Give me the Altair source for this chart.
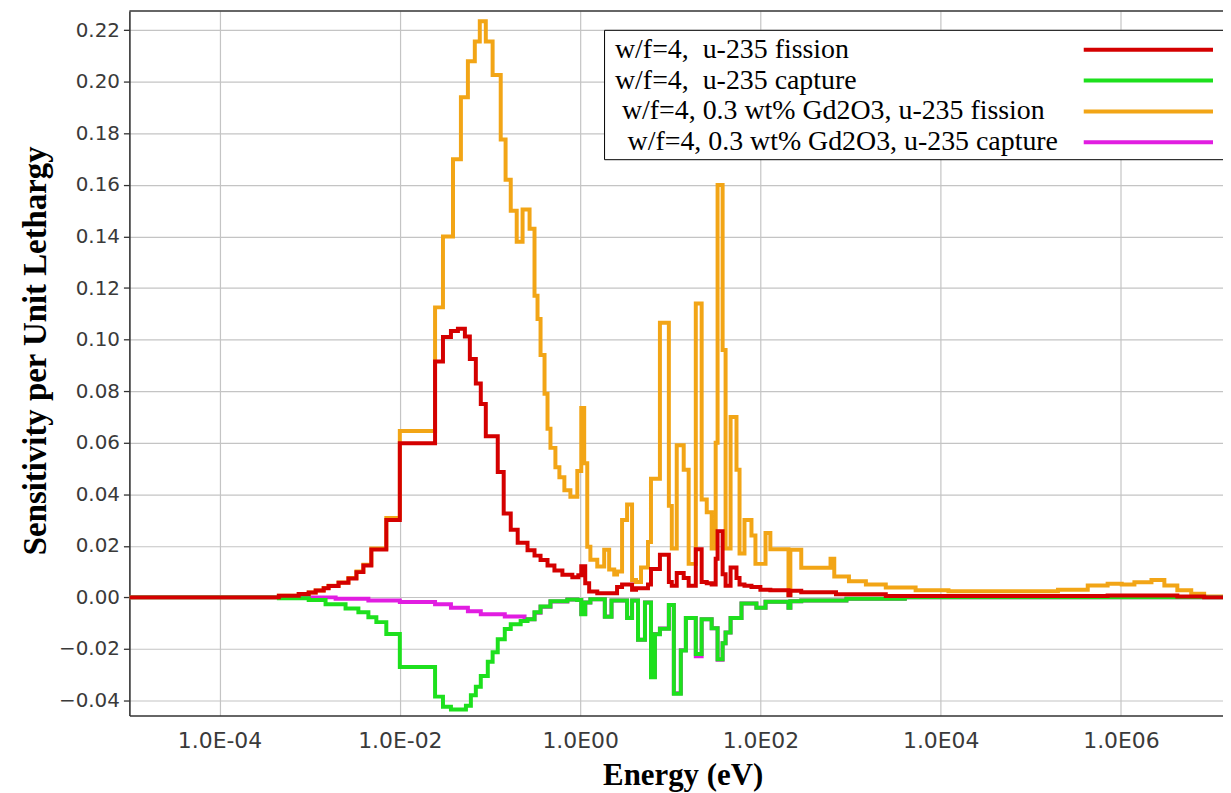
import altair as alt
import pandas as pd

# ---------------- data ----------------
series_names = [
    "w/f=4,\u00a0 u-235 fission",
    "w/f=4,\u00a0 u-235 capture",
    "\u200b\u00a0w/f=4, 0.3 wt% Gd2O3, u-235 fission",
    "\u200b\u00a0\u2009w/f=4, 0.3 wt% Gd2O3, u-235 capture",
]
series_colors = ["#d40000", "#1de01d", "#f2a516", "#e11de1"]

red_energy = [1e-5, 4.55e-4, 7.56e-4, 9.75e-4, 1.165e-3, 1.43e-3, 1.62e-3, 2.09e-3, 2.69e-3, 3.30e-3,
              3.94e-3, 4.83e-3, 7.08e-3, 1.0e-2, 0.0246, 0.0301, 0.0369, 0.0441, 0.0527, 0.0598,
              0.0697, 0.0791, 0.0899, 0.122, 0.142, 0.170, 0.203, 0.261, 0.312, 0.364,
              0.435, 0.519, 0.636, 0.820, 0.955, 1.03, 1.14, 1.26, 1.55, 2.57,
              2.92, 3.77, 4.17, 5.66, 6.11, 7.68, 9.65, 10.4, 11.8, 14.1,
              16.0, 19.2, 22.3, 25.4, 28.8, 31.9, 33.5, 38.1, 41.1, 46.7,
              54.3, 58.7, 66.6, 79.6, 100, 129, 205, 215, 284, 690,
              2460, 7.11e5, 4.22e6, 8.37e6]
red_value = [0, 0.0006, 0.0013, 0.0019, 0.0027, 0.0035, 0.0044, 0.0057, 0.0073, 0.0098,
             0.0124, 0.0186, 0.0300, 0.0598, 0.0915, 0.1010, 0.1033, 0.1042, 0.1012, 0.0925,
             0.0830, 0.0750, 0.0625, 0.0486, 0.0325, 0.0262, 0.0212, 0.0183, 0.0162, 0.0145,
             0.0124, 0.0104, 0.0088, 0.0078, 0.0086, 0.0121, 0.0055, 0.0023, 0.0016, 0.0040,
             0.0050, 0.0030, 0.0035, 0.0050, 0.0110, 0.0165, 0.0060, 0.0045, 0.0095, 0.0075,
             0.0045, 0.0187, 0.0060, 0.0055, 0.0050, 0.0150, 0.0257, 0.0090, 0.0045, 0.0116,
             0.0075, 0.0050, 0.0045, 0.0040, 0.0030, 0.0028, 0.0008, 0.0026, 0.0020, 0.0012,
             0.0005, 0.0007, 0.0003, 0.0]

green_energy = [1e-5, 4.55e-4, 9.75e-4, 1.50e-3, 2.50e-3, 3.47e-3, 4.48e-3, 5.49e-3, 7.08e-3, 1.0e-2,
                0.0246, 0.0301, 0.0369, 0.0541, 0.0614, 0.0697, 0.0791, 0.0946, 0.107, 0.122,
                0.146, 0.170, 0.219, 0.261, 0.312, 0.364, 0.469, 0.722, 0.931, 1.03,
                1.14, 1.30, 1.88, 2.23, 3.32, 3.77, 4.39, 5.24, 6.11, 6.76,
                7.68, 9.65, 10.96, 13.1, 14.9, 19.2, 22.3, 28.8, 33.5, 38.1,
                41.1, 46.7, 61.7, 90.3, 114, 205, 215, 284, 900, 4000]
green_value = [0, -0.0003, -0.0010, -0.0027, -0.0043, -0.0058, -0.0077, -0.0096, -0.0142, -0.0270,
               -0.0385, -0.0424, -0.0435, -0.0420, -0.0380, -0.0347, -0.0305, -0.0250, -0.0213, -0.0162,
               -0.0123, -0.0104, -0.0092, -0.0085, -0.0058, -0.0035, -0.0015, -0.0008, -0.0010, -0.0065,
               -0.0020, -0.0007, -0.0075, -0.0012, -0.0080, -0.0012, -0.0164, -0.0020, -0.0310, -0.0143,
               -0.0122, -0.0030, -0.0374, -0.0206, -0.0080, -0.0220, -0.0085, -0.0120, -0.0240, -0.0178,
               -0.0136, -0.0080, -0.0024, -0.0040, -0.0017, -0.0040, -0.0015, -0.0012, -0.0005, 0.0]

orange_energy = [1e-5, 4.55e-4, 7.56e-4, 9.75e-4, 1.165e-3, 1.43e-3, 1.62e-3, 2.09e-3, 2.69e-3, 3.30e-3,
                 3.94e-3, 4.83e-3, 7.08e-3, 1.0e-2, 0.0246, 0.0301, 0.0389, 0.0476, 0.0569, 0.0679,
                 0.0771, 0.0899, 0.107, 0.1316, 0.149, 0.170, 0.198, 0.230, 0.275, 0.312,
                 0.337, 0.364, 0.403, 0.435, 0.469, 0.532, 0.589, 0.669, 0.780, 0.931,
                 1.03, 1.11, 1.20, 1.30, 1.55, 1.85, 2.10, 2.39, 2.57, 2.92,
                 3.32, 3.77, 4.17, 4.74, 5.66, 6.11, 7.68, 9.65, 10.4, 11.8,
                 14.1, 16.0, 19.2, 22.3, 25.4, 28.8, 31.9, 33.5, 38.1, 41.1,
                 46.7, 54.3, 58.7, 66.6, 79.6, 88.1, 114, 129, 205, 215,
                 284, 600, 660, 960, 1480, 2460, 5270, 1.22e4, 2.0e5, 4.28e5,
                 7.11e5, 1.02e6, 1.41e6, 2.18e6, 3.03e6, 4.22e6, 6.02e6, 8.37e6]
orange_value = [0, 0.0006, 0.0013, 0.0019, 0.0027, 0.0036, 0.0045, 0.0058, 0.0075, 0.0100,
                0.0127, 0.0190, 0.0308, 0.0645, 0.1125, 0.1400, 0.1700, 0.1940, 0.2080, 0.2156,
                0.2235, 0.2156, 0.2026, 0.1776, 0.1620, 0.1500, 0.1380, 0.1505, 0.1430, 0.1170,
                0.1080, 0.0940, 0.0790, 0.0654, 0.0580, 0.0505, 0.0466, 0.0416, 0.0390, 0.0490,
                0.0735, 0.0520, 0.0196, 0.0146, 0.0120, 0.0185, 0.0108, 0.0089, 0.0100, 0.0300,
                0.0360, 0.0067, 0.0060, 0.0116, 0.0215, 0.0460, 0.1065, 0.0355, 0.0190, 0.0590,
                0.0495, 0.0130, 0.1140, 0.0380, 0.0330, 0.0190, 0.0600, 0.1600, 0.0960, 0.0190,
                0.0700, 0.0495, 0.0170, 0.0300, 0.0240, 0.0130, 0.0250, 0.0187, 0.0010, 0.0185,
                0.0115, 0.0150, 0.0081, 0.0063, 0.0050, 0.0038, 0.0028, 0.0024, 0.0030, 0.0046,
                0.0053, 0.0050, 0.0059, 0.0067, 0.0046, 0.0028, 0.0014, 0.0003]

magenta_energy = [1e-5, 1.94e-3, 4.48e-3, 1.0e-2, 0.0246, 0.0369, 0.0569, 0.0791, 0.146, 0.242,
                  0.312, 0.364, 0.469, 0.722, 0.931, 1.03, 1.14, 1.30, 1.88, 2.23,
                  3.32, 3.77, 4.39, 5.24, 6.11, 6.76, 7.68, 9.65, 10.96, 13.1,
                  14.9, 19.2, 22.3, 28.8, 33.5, 38.1, 41.1, 46.7, 61.7, 90.3,
                  114, 205, 215, 284, 900, 4000]
magenta_value = [0, -0.0005, -0.0012, -0.0018, -0.0027, -0.0040, -0.0054, -0.0065, -0.0074, -0.0085,
                 -0.0060, -0.0036, -0.0016, -0.0008, -0.0010, -0.0064, -0.0020, -0.0007, -0.0074, -0.0012,
                 -0.0079, -0.0012, -0.0164, -0.0020, -0.0308, -0.0142, -0.0121, -0.0030, -0.0372, -0.0205,
                 -0.0080, -0.0228, -0.0085, -0.0120, -0.0242, -0.0178, -0.0136, -0.0080, -0.0024, -0.0040,
                 -0.0017, -0.0040, -0.0015, -0.0012, -0.0005, 0.0]

x_ticks = [1e-4, 1e-2, 1.0, 1e2, 1e4, 1e6]
x_tick_labels = ["1.0E-04", "1.0E-02", "1.0E00", "1.0E02", "1.0E04", "1.0E06"]
y_ticks = [-0.04, -0.02, 0.0, 0.02, 0.04, 0.06, 0.08, 0.10, 0.12, 0.14, 0.16, 0.18, 0.20, 0.22]

E_MAX = 2.0e7


def frame(name, energies, values):
    e = list(energies) + [E_MAX]
    v = list(values) + [values[-1]]
    return pd.DataFrame({"energy": e, "sens": v, "series": name})


PLOT_W = 1099
PLOT_H = 708

x_scale = alt.Scale(type="log", domain=[1e-5, 1.355e7], nice=False)
y_scale = alt.Scale(domain=[-0.0458, 0.2275], nice=False, zero=False)
color_scale = alt.Scale(domain=series_names, range=series_colors)

label_expr = "[" + ",".join("'%s'" % s for s in x_tick_labels) + "][round((log(datum.value)/LN10 + 4)/2)]"

x_axis = alt.Axis(
    values=x_ticks, labelExpr=label_expr, title="Energy (eV)", grid=True,
    gridColor="#c4c4c4", gridWidth=1.2, domainColor="#333333", domainWidth=1.6,
    tickSize=0, labelFont="DejaVu Sans", labelFontSize=22, labelColor="#3a3a3a",
    labelPadding=15, titleFont="Liberation Serif", titleFontSize=31, titleFontWeight="bold",
    titleColor="black", titleX=556, titleY=69, titleBaseline="alphabetic",
)
y_axis = alt.Axis(
    values=y_ticks, format=".2f", title="Sensitivity per Unit Lethargy", grid=True,
    gridColor="#c4c4c4", gridWidth=1.2, domainColor="#333333", domainWidth=1.6,
    tickSize=6, tickColor="#333333", tickWidth=1.3,
    labelFont="DejaVu Sans", labelFontSize=20, labelColor="#3a3a3a", labelPadding=4,
    titleFont="Liberation Serif", titleFontSize=33, titleFontWeight="bold", titleColor="black",
    titleX=-94, titleY=341, titleBaseline="middle", titleAngle=-90,
)
legend = alt.Legend(
    title=None, orient="none", legendX=477, legendY=19,
    symbolType="M-4.33,0H4.33", symbolSize=900, symbolStrokeWidth=4,
    rowPadding={"expr": "-4"}, labelOffset={"expr": "-553"}, symbolOffset=527,
    labelFont="Liberation Serif", labelFontSize=28, labelColor="black", labelLimit=800,
    padding=3, strokeColor="black", fillColor="white",
)


def layer(df):
    return alt.Chart(df).mark_line(interpolate="step-after", strokeWidth=4, clip=True).encode(
        x=alt.X("energy:Q", scale=x_scale, axis=x_axis),
        y=alt.Y("sens:Q", scale=y_scale, axis=y_axis),
        color=alt.Color("series:N", scale=color_scale, legend=legend),
    )


orange_layer = layer(frame(series_names[2], orange_energy, orange_value))
magenta_layer = layer(frame(series_names[3], magenta_energy, magenta_value))
green_layer = layer(frame(series_names[1], green_energy, green_value))
red_layer = layer(frame(series_names[0], red_energy, red_value))

top_border = alt.Chart(pd.DataFrame({"k": [0]})).mark_rule(color="#333333", strokeWidth=1.6).encode(
    y=alt.value(0)
)

chart = alt.layer(orange_layer, magenta_layer, green_layer, red_layer, top_border).properties(
    width=PLOT_W, height=PLOT_H,
    autosize=alt.AutoSizeParams(type="none"),
    padding={"left": 122, "top": 1, "right": 0, "bottom": 76},
    background="white",
).configure_view(stroke=None)

chart.save("out.html", embed_options={"renderer": "svg", "actions": False})
